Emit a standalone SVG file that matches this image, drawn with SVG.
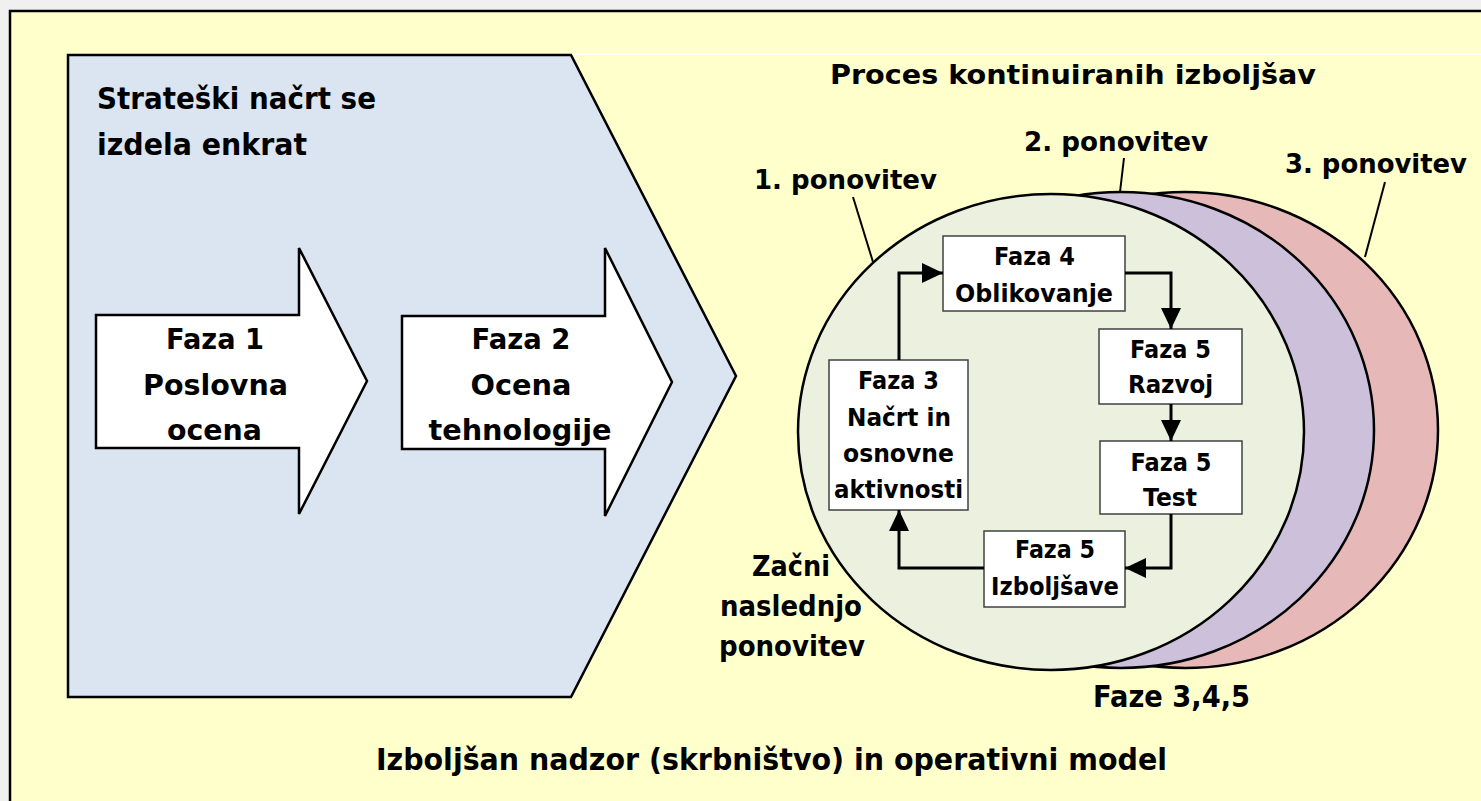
<svg xmlns="http://www.w3.org/2000/svg" width="1481" height="801" viewBox="0 0 1481 801">
<style>
.t{font-family:"DejaVu Sans","Liberation Sans",sans-serif;font-weight:bold;fill:#000;text-anchor:middle}
.l{text-anchor:start}
.box{fill:#fff;stroke:#404040;stroke-width:1.5}
.big{fill:#fff;stroke:#000;stroke-width:2.5;stroke-linejoin:miter}
.ell{stroke:#000;stroke-width:2.5}
.lead{stroke:#000;stroke-width:2;fill:none}
.con{stroke:#000;stroke-width:3;fill:none;marker-end:url(#ah)}
</style>
<defs>
<marker id="ah" markerUnits="userSpaceOnUse" markerWidth="21" markerHeight="20" refX="21" refY="10" orient="auto" viewBox="0 0 21 20">
<path d="M0,0 L21,10 L0,20 z" fill="#000"/>
</marker>
</defs>
<rect x="0" y="0" width="1481" height="801" fill="#f0f0f0"/>
<rect id="frame" x="10" y="11" width="1490" height="810" fill="#ffffcc" stroke="#000" stroke-width="2.5"/>
<line x1="571" y1="54" x2="1481" y2="54" stroke="#fff" stroke-width="1.5"/>

<g id="strategic">
<path d="M68,55 H571 L736,376 L571,697 H68 Z" fill="#dbe5f1" stroke="#000" stroke-width="2.5"/>
<text class="t l" x="97" y="109" font-size="31" textLength="279" lengthAdjust="spacingAndGlyphs">Strateški načrt se</text>
<text class="t l" x="97" y="155" font-size="31" textLength="210" lengthAdjust="spacingAndGlyphs">izdela enkrat</text>
</g>

<g id="faza1">
<path class="big" d="M96,315 H299 V248 L367,381 L299,514 V448 H96 Z"/>
<text class="t" x="215" y="349" font-size="28" textLength="98" lengthAdjust="spacingAndGlyphs">Faza 1</text>
<text class="t" x="215.5" y="395" font-size="28" textLength="145" lengthAdjust="spacingAndGlyphs">Poslovna</text>
<text class="t" x="214.5" y="440" font-size="28" textLength="95" lengthAdjust="spacingAndGlyphs">ocena</text>
</g>

<g id="faza2">
<path class="big" d="M402,316 H605 V248 L672,382 L605,516 V449 H402 Z"/>
<text class="t" x="521" y="349" font-size="28" textLength="99" lengthAdjust="spacingAndGlyphs">Faza 2</text>
<text class="t" x="521" y="395" font-size="28" textLength="101" lengthAdjust="spacingAndGlyphs">Ocena</text>
<text class="t" x="520" y="440" font-size="28" textLength="183" lengthAdjust="spacingAndGlyphs">tehnologije</text>
</g>

<g id="title">
<text class="t" x="1073" y="84" font-size="26" textLength="486" lengthAdjust="spacingAndGlyphs">Proces kontinuiranih izboljšav</text>
</g>

<g id="iter3">
<ellipse class="ell" cx="1185" cy="430" rx="253" ry="238" fill="#e6b9b8"/>
</g>
<g id="iter2">
<ellipse class="ell" cx="1121" cy="430" rx="253" ry="238" fill="#ccc0da"/>
</g>
<g id="iter1">
<ellipse class="ell" cx="1051" cy="432" rx="253" ry="238" fill="#ebf1de"/>
</g>

<g id="labels">
<text class="t" x="845.5" y="189" font-size="26" textLength="183" lengthAdjust="spacingAndGlyphs">1. ponovitev</text>
<line class="lead" x1="853" y1="197" x2="873" y2="262"/>
<text class="t" x="1116" y="151" font-size="26" textLength="184" lengthAdjust="spacingAndGlyphs">2. ponovitev</text>
<line class="lead" x1="1124" y1="158" x2="1120" y2="192"/>
<text class="t" x="1376" y="173" font-size="26" textLength="182" lengthAdjust="spacingAndGlyphs">3. ponovitev</text>
<line class="lead" x1="1385" y1="182" x2="1365" y2="257"/>
</g>

<g id="faza4">
<rect class="box" x="943" y="236" width="182" height="75"/>
<text class="t" x="1034.5" y="265" font-size="25" textLength="81" lengthAdjust="spacingAndGlyphs">Faza 4</text>
<text class="t" x="1034" y="302" font-size="25" textLength="158" lengthAdjust="spacingAndGlyphs">Oblikovanje</text>
</g>

<g id="faza5razvoj">
<rect class="box" x="1099" y="329" width="143" height="75"/>
<text class="t" x="1170.5" y="358" font-size="25" textLength="81" lengthAdjust="spacingAndGlyphs">Faza 5</text>
<text class="t" x="1170.5" y="393" font-size="25" textLength="85" lengthAdjust="spacingAndGlyphs">Razvoj</text>
</g>

<g id="faza5test">
<rect class="box" x="1100" y="441" width="142" height="73"/>
<text class="t" x="1171" y="471" font-size="25" textLength="81" lengthAdjust="spacingAndGlyphs">Faza 5</text>
<text class="t" x="1170" y="506" font-size="25" textLength="54" lengthAdjust="spacingAndGlyphs">Test</text>
</g>

<g id="faza5izb">
<rect class="box" x="984" y="531" width="141" height="76"/>
<text class="t" x="1055" y="558" font-size="25" textLength="80" lengthAdjust="spacingAndGlyphs">Faza 5</text>
<text class="t" x="1055" y="595" font-size="25" textLength="128" lengthAdjust="spacingAndGlyphs">Izboljšave</text>
</g>

<g id="faza3">
<rect class="box" x="829" y="360" width="139" height="150"/>
<text class="t" x="898.5" y="389" font-size="25" textLength="81" lengthAdjust="spacingAndGlyphs">Faza 3</text>
<text class="t" x="899" y="426" font-size="25" textLength="104" lengthAdjust="spacingAndGlyphs">Načrt in</text>
<text class="t" x="898.5" y="462" font-size="25" textLength="111" lengthAdjust="spacingAndGlyphs">osnovne</text>
<text class="t" x="898.5" y="498" font-size="25" textLength="129" lengthAdjust="spacingAndGlyphs">aktivnosti</text>
</g>

<g id="connectors">
<path class="con" d="M899,360 V273 H943"/>
<path class="con" d="M1125,273 H1171 V329"/>
<path class="con" d="M1171,404 V441"/>
<path class="con" d="M1171,514 V568 H1125"/>
<path class="con" d="M984,568 H899 V510"/>
</g>

<g id="restart">
<text class="t" x="791" y="576" font-size="28" textLength="78" lengthAdjust="spacingAndGlyphs">Začni</text>
<text class="t" x="791" y="616" font-size="28" textLength="142" lengthAdjust="spacingAndGlyphs">naslednjo</text>
<text class="t" x="792" y="656" font-size="28" textLength="146" lengthAdjust="spacingAndGlyphs">ponovitev</text>
</g>

<g id="phases">
<text class="t" x="1171.5" y="707" font-size="31" textLength="157" lengthAdjust="spacingAndGlyphs">Faze 3,4,5</text>
</g>

<g id="footer">
<text class="t" x="771.5" y="770" font-size="31" textLength="791" lengthAdjust="spacingAndGlyphs">Izboljšan nadzor (skrbništvo) in operativni model</text>
</g>
</svg>
